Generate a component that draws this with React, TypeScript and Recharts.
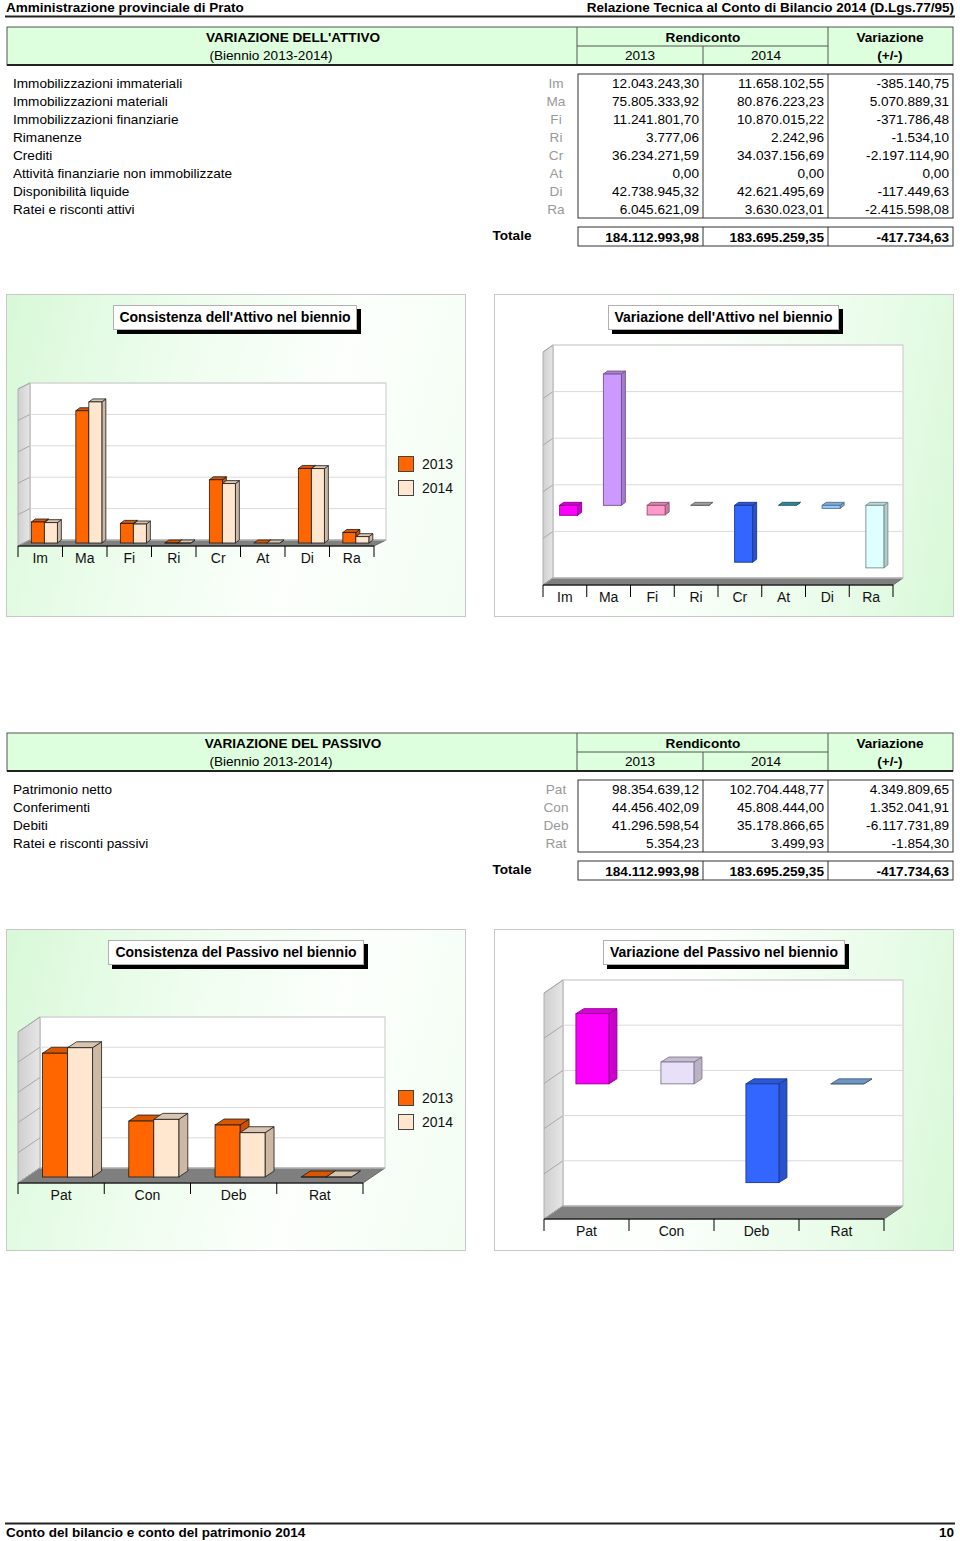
import React from 'react';
import { BarChart, Bar, XAxis, YAxis, CartesianGrid, Cell, Legend } from 'recharts';

// ---------------- DATA ----------------
const attivoNames = [
  'Immobilizzazioni immateriali',
  'Immobilizzazioni materiali',
  'Immobilizzazioni finanziarie',
  'Rimanenze',
  'Crediti',
  'Attività finanziarie non immobilizzate',
  'Disponibilità liquide',
  'Ratei e risconti attivi',
];
const attivoCodes = ['Im', 'Ma', 'Fi', 'Ri', 'Cr', 'At', 'Di', 'Ra'];
const attivo2013 = [12043243.3, 75805333.92, 11241801.7, 3777.06, 36234271.59, 0, 42738945.32, 6045621.09];
const attivo2014 = [11658102.55, 80876223.23, 10870015.22, 2242.96, 34037156.69, 0, 42621495.69, 3630023.01];
const attivoVar = [-385140.75, 5070889.31, -371786.48, -1534.1, -2197114.9, 0, -117449.63, -2415598.08];
const attivoTot = [184112993.98, 183695259.35, -417734.63];

const passivoNames = ['Patrimonio netto', 'Conferimenti', 'Debiti', 'Ratei e risconti passivi'];
const passivoCodes = ['Pat', 'Con', 'Deb', 'Rat'];
const passivo2013 = [98354639.12, 44456402.09, 41296598.54, 5354.23];
const passivo2014 = [102704448.77, 45808444.0, 35178866.65, 3499.93];
const passivoVar = [4349809.65, 1352041.91, -6117731.89, -1854.3];
const passivoTot = [184112993.98, 183695259.35, -417734.63];

const yearLabels = ['2013', '2014'];
const attivoConsTicks = [0, 18e6, 36e6, 54e6, 72e6, 90e6];
const attivoVarTicks = [-3e6, -1.2e6, 0.6e6, 2.4e6, 4.2e6, 6e6];
const passivoConsTicks = [0, 24e6, 48e6, 72e6, 96e6, 120e6];
const passivoVarTicks = [-8e6, -5.2e6, -2.4e6, 0.4e6, 3.2e6, 6e6];

const yearColors = ['#FF6600', '#FFE6CE'];
const attivoVarColors = ['#FF00FF', '#CC99FF', '#FF99CC', '#BBBBBB', '#3366FF', '#3C9DB0', '#99CCFF', '#DDFFFF'];
const passivoVarColors = ['#FF00FF', '#E8E0F8', '#3366FF', '#80B0E8'];

// ---------------- HELPERS ----------------
const FONT = '"Liberation Sans", Arial, Helvetica, sans-serif';

function fmt(v: number) {
  const neg = v < 0;
  const [i, d] = Math.abs(v).toFixed(2).split('.');
  const ii = i.replace(/\B(?=(\d{3})+(?!\d))/g, '.');
  return (neg ? '-' : '') + ii + ',' + d;
}

function shade(hex: string, f: number) {
  const h = hex.replace('#', '');
  const r = Math.round(parseInt(h.slice(0, 2), 16) * f);
  const g = Math.round(parseInt(h.slice(2, 4), 16) * f);
  const b = Math.round(parseInt(h.slice(4, 6), 16) * f);
  const c = (n: number) => Math.max(0, Math.min(255, n)).toString(16).padStart(2, '0');
  return '#' + c(r) + c(g) + c(b);
}

type Geo = {
  W: number; H: number;
  m: { top: number; right: number; bottom: number; left: number };
  XH: number; DX: number; DY: number;
  ox: number; oy: number; bdx: number; bdy: number;
};

function make3DBar(g: Geo, strokeFn: (c: string) => string, sw: number, colorOf?: (i: number) => string) {
  return (props: any) => {
    const { x, y, width, height, index } = props;
    if (x == null || y == null || width == null) return <g />;
    const fill = colorOf ? colorOf(index) : props.fill;
    const top = Math.min(y, y + (height || 0));
    const h = Math.abs(height || 0);
    const fx = x + g.ox;
    const ft = top + g.oy;
    const fb = ft + h;
    const w = width;
    const st = strokeFn(fill);
    const { bdx: dx, bdy: dy } = g;
    return (
      <g>
        <polygon
          points={`${fx + w},${ft} ${fx + w + dx},${ft + dy} ${fx + w + dx},${fb + dy} ${fx + w},${fb}`}
          fill={shade(fill, 0.8)} stroke={st} strokeWidth={sw} strokeLinejoin="round"
        />
        <polygon
          points={`${fx},${ft} ${fx + dx},${ft + dy} ${fx + w + dx},${ft + dy} ${fx + w},${ft}`}
          fill={shade(fill, 0.85)} stroke={st} strokeWidth={sw} strokeLinejoin="round"
        />
        <rect x={fx} y={ft} width={w} height={h} fill={fill} stroke={st} strokeWidth={sw} />
      </g>
    );
  };
}

function Walls({ g }: { g: Geo }) {
  const L = g.m.left, R = g.W - g.m.right, T = g.m.top, B = g.H - g.m.bottom - g.XH;
  const { DX, DY } = g;
  return (
    <svg width={g.W} height={g.H} style={{ position: 'absolute', left: 0, top: 0 }}>
      <defs>
        <linearGradient id={`sw${L}${T}`} x1="0" y1="0" x2="1" y2="0">
          <stop offset="0" stopColor="#cfcfcf" />
          <stop offset="1" stopColor="#e6e6e6" />
        </linearGradient>
      </defs>
      <rect x={L + DX} y={T + DY} width={R - L} height={B - T} fill="#ffffff" stroke="#c8c8c8" strokeWidth={1} />
      <polygon points={`${L},${T} ${L + DX},${T + DY} ${L + DX},${B + DY} ${L},${B}`}
        fill={`url(#sw${L}${T})`} stroke="#b0b0b0" strokeWidth={1} />
      <polygon points={`${L},${B} ${L + DX},${B + DY} ${R + DX},${B + DY} ${R},${B}`}
        fill="#7f7f7f" stroke="#6a6a6a" strokeWidth={1} />
    </svg>
  );
}

function gridFn(g: Geo) {
  return (p: any) => {
    const { x1, y1, x2, y2 } = p;
    return (
      <g key={`gl-${y1}`}>
        <line x1={x1} y1={y1} x2={x1 + g.DX} y2={y1 + g.DY} stroke="#a8a8a8" strokeWidth={1} />
        <line x1={x1 + g.DX} y1={y1 + g.DY} x2={x2 + g.DX} y2={y2 + g.DY} stroke="#dadada" strokeWidth={1} />
      </g>
    );
  };
}

function tickFn(g: Geo, n: number, tickLen: number) {
  const bw = (g.W - g.m.left - g.m.right) / n;
  return (p: any) => {
    const { x, y, payload, index } = p;
    return (
      <g>
        <line x1={x - bw / 2} x2={x - bw / 2} y1={y} y2={y + tickLen} stroke="#000" strokeWidth={1} />
        {index === n - 1 && (
          <line x1={x + bw / 2} x2={x + bw / 2} y1={y} y2={y + tickLen} stroke="#000" strokeWidth={1} />
        )}
        <text x={x} y={y + 17} textAnchor="middle" fontSize={14} fill="#111" fontFamily={FONT}>
          {payload.value}
        </text>
      </g>
    );
  };
}

function LegendBox(props: any) {
  const { payload } = props;
  return (
    <div style={{ fontFamily: FONT }}>
      {(payload || []).map((e: any, i: number) => (
        <div key={i} style={{ display: 'flex', alignItems: 'center', height: 24 }}>
          <div style={{ width: 14, height: 14, background: e.color, border: '1px solid #444' }} />
          <span style={{ marginLeft: 8, fontSize: 14, color: '#111' }}>{e.value}</span>
        </div>
      ))}
    </div>
  );
}

function Panel({ x, y, w, h, side, children }: any) {
  const bg =
    side === 'left'
      ? 'linear-gradient(105deg, #d8f8d8 0%, #eefdee 35%, #fcfffc 65%, #f2fdf2 100%)'
      : 'linear-gradient(100deg, #ffffff 0%, #fdfffd 40%, #eafcea 75%, #d8f8d8 100%)';
  return (
    <div style={{ position: 'absolute', left: x, top: y, width: w, height: h, background: bg, boxSizing: 'border-box', outline: '1px solid #c8c8c8', outlineOffset: -1 }}>
      {children}
    </div>
  );
}

function TitleBox({ x, y, w, text }: any) {
  return (
    <div style={{
      position: 'absolute', left: x, top: y, width: w, height: 25, background: '#fff',
      border: '1px solid #b0b0b0', boxSizing: 'border-box', boxShadow: '4px 4px 0 #000',
      fontFamily: FONT, fontWeight: 'bold', fontSize: 14, lineHeight: '23px', textAlign: 'center', color: '#000',
    }}>{text}</div>
  );
}

function ConsChart({ g, codes, v13, v14, ticks, gap, legendPos, tickLen }: any) {
  const data = codes.map((c: string, i: number) => ({ code: c, a: v13[i], b: v14[i] }));
  const shape = make3DBar(g, () => '#1a1a1a', 0.8);
  return (
    <div style={{ position: 'absolute', left: 0, top: 0, width: g.W, height: g.H }}>
      <Walls g={g} />
      <div style={{ position: 'absolute', left: 0, top: 0 }}>
        <BarChart width={g.W} height={g.H} data={data} margin={g.m} barGap={0} barCategoryGap={gap}>
          <CartesianGrid vertical={false} horizontal={gridFn(g)} />
          <XAxis dataKey="code" interval={0} height={g.XH} tickSize={0} tickMargin={0} tickLine={false}
            axisLine={{ stroke: '#000' }} tick={tickFn(g, codes.length, tickLen)} />
          <YAxis hide type="number" domain={[ticks[0], ticks[ticks.length - 1]]} ticks={ticks} allowDataOverflow />
          <Legend layout="horizontal" align="center" verticalAlign="middle" content={<LegendBox />}
            wrapperStyle={{ left: legendPos[0], top: legendPos[1], width: 70, height: 50 }} />
          <Bar dataKey="a" name={yearLabels[0]} fill={yearColors[0]} shape={shape} isAnimationActive={false} />
          <Bar dataKey="b" name={yearLabels[1]} fill={yearColors[1]} shape={shape} isAnimationActive={false} />
        </BarChart>
      </div>
    </div>
  );
}

function VarChart({ g, codes, vals, colors, ticks, gap, tickLen }: any) {
  const data = codes.map((c: string, i: number) => ({ code: c, v: vals[i] }));
  const shape = make3DBar(g, (c) => shade(c, 0.55), 0.9, (i) => colors[i]);
  return (
    <div style={{ position: 'absolute', left: 0, top: 0, width: g.W, height: g.H }}>
      <Walls g={g} />
      <div style={{ position: 'absolute', left: 0, top: 0 }}>
        <BarChart width={g.W} height={g.H} data={data} margin={g.m} barCategoryGap={gap}>
          <CartesianGrid vertical={false} horizontal={gridFn(g)} />
          <XAxis dataKey="code" interval={0} height={g.XH} tickSize={0} tickMargin={0} tickLine={false}
            axisLine={{ stroke: '#000' }} tick={tickFn(g, codes.length, tickLen)} />
          <YAxis hide type="number" domain={[ticks[0], ticks[ticks.length - 1]]} ticks={ticks} allowDataOverflow />
          <Bar dataKey="v" shape={shape} isAnimationActive={false}>
            {data.map((_: any, i: number) => <Cell key={i} fill={colors[i]} />)}
          </Bar>
        </BarChart>
      </div>
    </div>
  );
}

// ---------------- TABLES ----------------
function Table({ top, title, names, codes, v13, v14, vv, tot }: any) {
  const fs = 13.6;
  const h1 = top, hm = top + 19, hb = top + 38;
  const dTop = top + 47, rowH = 18;
  const dBot = dTop + rowH * names.length;
  const tTop = dBot + 9, tBot = tTop + 19;
  const tc = (tTop + tBot) / 2 + 5;
  return (
    <g fontFamily={FONT} fontSize={fs}>
      <rect x={7} y={h1} width={946} height={38} fill="#DDFFDD" stroke="#555" strokeWidth={1} />
      <line x1={577} x2={577} y1={h1} y2={hb} stroke="#555" />
      <line x1={828} x2={828} y1={h1} y2={hb} stroke="#555" />
      <line x1={577} x2={828} y1={hm} y2={hm} stroke="#555" />
      <line x1={703} x2={703} y1={hm} y2={hb} stroke="#555" />
      <line x1={7} x2={953} y1={hb} y2={hb} stroke="#222" strokeWidth={2} />
      <text x={293} y={h1 + 15} textAnchor="middle" fontWeight="bold">{title}</text>
      <text x={271} y={hm + 14} textAnchor="middle">(Biennio 2013-2014)</text>
      <text x={703} y={h1 + 15} textAnchor="middle" fontWeight="bold">Rendiconto</text>
      <text x={640} y={hm + 14} textAnchor="middle">{yearLabels[0]}</text>
      <text x={766} y={hm + 14} textAnchor="middle">{yearLabels[1]}</text>
      <text x={890} y={h1 + 15} textAnchor="middle" fontWeight="bold">Variazione</text>
      <text x={890} y={hm + 14} textAnchor="middle" fontWeight="bold">(+/-)</text>

      <rect x={578} y={dTop} width={375} height={dBot - dTop} fill="none" stroke="#333" />
      <line x1={703} x2={703} y1={dTop} y2={dBot} stroke="#333" />
      <line x1={828} x2={828} y1={dTop} y2={dBot} stroke="#333" />
      {names.map((n: string, i: number) => {
        const cy = dTop + rowH * i + rowH / 2 + 5;
        return (
          <g key={i}>
            <text x={13} y={cy}>{n}</text>
            <text x={556} y={cy} textAnchor="middle" fill="#999">{codes[i]}</text>
            <text x={699} y={cy} textAnchor="end">{fmt(v13[i])}</text>
            <text x={824} y={cy} textAnchor="end">{fmt(v14[i])}</text>
            <text x={949} y={cy} textAnchor="end">{fmt(vv[i])}</text>
          </g>
        );
      })}
      <text x={512} y={tc - 2} textAnchor="middle" fontWeight="bold">Totale</text>
      <rect x={578} y={tTop} width={375} height={19} fill="none" stroke="#333" />
      <line x1={703} x2={703} y1={tTop} y2={tBot} stroke="#333" />
      <line x1={828} x2={828} y1={tTop} y2={tBot} stroke="#333" />
      <text x={699} y={tc} textAnchor="end" fontWeight="bold">{fmt(tot[0])}</text>
      <text x={824} y={tc} textAnchor="end" fontWeight="bold">{fmt(tot[1])}</text>
      <text x={949} y={tc} textAnchor="end" fontWeight="bold">{fmt(tot[2])}</text>
    </g>
  );
}

// ---------------- GEOMETRY (layout/style) ----------------
const g1: Geo = { W: 460, H: 323, m: { top: 95, right: 92, bottom: 41, left: 12 }, XH: 30, DX: 12, DY: -6, ox: 4, oy: -3, bdx: 4, bdy: -3 };
const g2: Geo = { W: 460, H: 323, m: { top: 58, right: 61, bottom: 2, left: 49 }, XH: 30, DX: 10, DY: -7, ox: 3.5, oy: -2, bdx: 4, bdy: -3 };
const g3: Geo = { W: 460, H: 322, m: { top: 103, right: 103, bottom: 38, left: 12 }, XH: 30, DX: 22, DY: -15, ox: 6, oy: -6, bdx: 9, bdy: -6 };
const g4: Geo = { W: 460, H: 322, m: { top: 64, right: 70, bottom: 2, left: 50 }, XH: 30, DX: 19, DY: -13, ox: 6, oy: -6, bdx: 8, bdy: -5 };

export default function App() {
  return (
    <div style={{ position: 'absolute', left: 0, top: 0, width: 960, height: 1541, background: '#fff', fontFamily: FONT, overflow: 'hidden' }}>
      <svg width={960} height={1541} style={{ position: 'absolute', left: 0, top: 0 }}>
        <g fontFamily={FONT} fontWeight="bold" fontSize={13.5} fill="#000">
          <text x={6} y={12}>Amministrazione provinciale di Prato</text>
          <text x={954} y={12} textAnchor="end">Relazione Tecnica al Conto di Bilancio 2014 (D.Lgs.77/95)</text>
          <line x1={5} x2={955} y1={16.5} y2={16.5} stroke="#222" strokeWidth={2} />
          <line x1={5} x2={955} y1={1523.5} y2={1523.5} stroke="#222" strokeWidth={2} />
          <text x={6} y={1537}>Conto del bilancio e conto del patrimonio 2014</text>
          <text x={954} y={1537} textAnchor="end">10</text>
        </g>
        <Table top={27} title="VARIAZIONE DELL'ATTIVO" names={attivoNames} codes={attivoCodes}
          v13={attivo2013} v14={attivo2014} vv={attivoVar} tot={attivoTot} />
        <Table top={733} title="VARIAZIONE DEL PASSIVO" names={passivoNames} codes={passivoCodes}
          v13={passivo2013} v14={passivo2014} vv={passivoVar} tot={passivoTot} />
      </svg>

      <Panel x={6} y={294} w={460} h={323} side="left">
        <ConsChart g={g1} codes={attivoCodes} v13={attivo2013} v14={attivo2014} ticks={attivoConsTicks}
          gap="21%" legendPos={[392, 158]} tickLen={11} />
        <TitleBox x={107} y={11} w={244} text="Consistenza dell'Attivo nel biennio" />
      </Panel>
      <Panel x={494} y={294} w={460} h={323} side="right">
        <VarChart g={g2} codes={attivoCodes} vals={attivoVar} colors={attivoVarColors} ticks={attivoVarTicks}
          gap="30%" tickLen={12} />
        <TitleBox x={114} y={11} w={231} text="Variazione dell'Attivo nel biennio" />
      </Panel>
      <Panel x={6} y={929} w={460} h={322} side="left">
        <ConsChart g={g3} codes={passivoCodes} v13={passivo2013} v14={passivo2014} ticks={passivoConsTicks}
          gap="21.5%" legendPos={[392, 157]} tickLen={11} />
        <TitleBox x={102} y={11} w={256} text="Consistenza del Passivo nel biennio" />
      </Panel>
      <Panel x={494} y={929} w={460} h={322} side="right">
        <VarChart g={g4} codes={passivoCodes} vals={passivoVar} colors={passivoVarColors} ticks={passivoVarTicks}
          gap="30.5%" tickLen={12} />
        <TitleBox x={109} y={11} w={242} text="Variazione del Passivo nel biennio" />
      </Panel>
    </div>
  );
}
